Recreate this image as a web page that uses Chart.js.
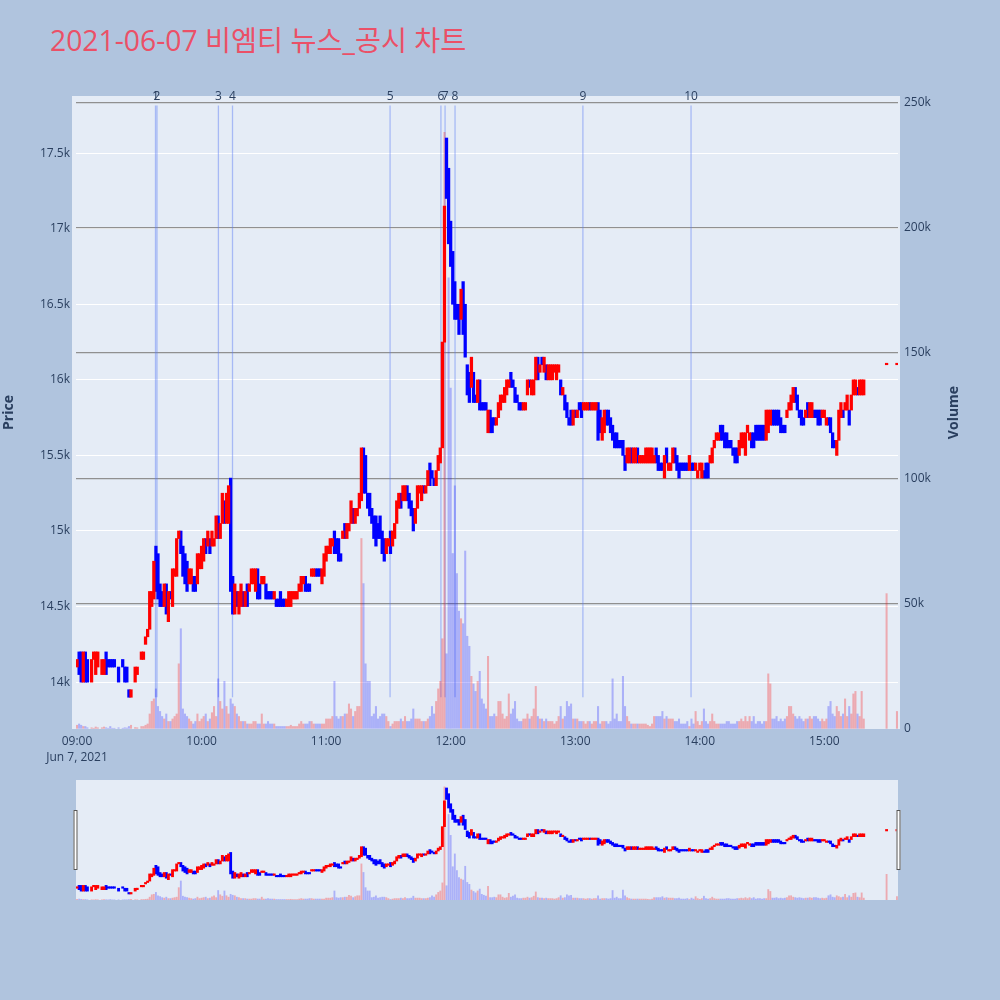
<!DOCTYPE html>
<html>
<head>
<meta charset="utf-8">
<script src="https://cdn.jsdelivr.net/npm/chart.js@4.4.0/dist/chart.umd.min.js"></script>
<style>
html, body { margin: 0; padding: 0; background: #B0C4DE; }
body { width: 1000px; height: 1000px; position: relative; overflow: hidden; }
#title { position: absolute; left: 50px; top: 23px; font-size: 28.3px; line-height: 34px; color: #EB5067;
  font-family: "Open Sans", "Noto Sans CJK KR", sans-serif; white-space: nowrap; }
#main { position: absolute; left: 0; top: 0; }
#slider { position: absolute; left: 0; top: 780px; }
</style>
</head>
<body>
<div id="title">2021-06-07 비엠티 뉴스_공시 차트</div>
<canvas id="main" width="1000" height="800"></canvas>
<canvas id="slider" width="1000" height="120"></canvas>
<script>
// minute index 0 = 09:00, one candle per minute (null = no trade)
var opens = [
  14100,14200,14200,14000,14200,14150,null,14000,14150,14050,
  14100,null,14050,14050,14200,14150,14150,14150,14150,null,
  14100,null,14150,14100,14100,13950,13900,null,14000,14050,
  null,14150,14150,14250,14300,14350,14500,14550,14900,14850,
  14650,14600,14500,14650,14400,14600,14500,14700,14700,14950,
  15000,14900,14850,14800,14650,14650,14700,14700,14650,14750,
  14750,14800,14950,14900,14950,14900,14900,14950,15100,14950,
  15050,15200,15050,15050,15350,14700,14450,14600,14450,14500,
  14600,14500,14650,14600,14650,14650,14600,14750,14650,14650,
  14650,14650,14600,14600,14600,14550,14550,14550,14600,14550,
  14550,14500,14500,14500,14550,14550,14550,14600,14600,14650,
  14700,14650,14650,14700,14700,14750,14750,14750,14650,14700,
  14800,14850,14850,14900,15000,14950,14950,14850,14950,15050,
  14950,15000,15050,15150,15050,15100,15150,15200,15550,15500,
  15250,15250,15150,15100,15100,15050,15100,15000,14950,14850,
  14900,15000,14900,14950,15050,15150,15250,15200,15200,15300,
  15250,15200,15150,15050,15150,15250,15200,15300,15250,15300,
  15450,15400,15350,15300,15400,15450,15550,16250,17600,17400,
  17050,16850,16650,16500,16500,16400,16650,16500,16100,16050,
  15950,16050,15900,15850,16000,15850,15850,15850,15650,15800,
  15750,15750,15700,15750,15800,15850,15850,15900,15950,16050,
  16000,15950,15900,15850,15850,15800,15800,15900,16000,15900,
  15900,16000,16150,16050,16150,16050,16100,16000,16000,16000,
  16050,16000,16050,16000,15900,15900,15850,15750,15800,15700,
  15800,15750,15850,15850,15800,15800,15800,15850,15800,15800,
  15800,15850,15800,15600,15650,15800,15800,15750,15700,15650,
  15650,15600,15600,15600,15500,15450,15450,15550,15450,15450,
  15550,15450,15450,15450,15450,15450,15450,15450,15450,15550,
  15500,15450,15450,15350,15550,15400,15400,15450,15550,15500,
  15450,15450,15450,15450,15450,15400,15450,15450,15400,15350,
  15400,15350,15400,15450,15450,15450,15450,15550,15600,15600,
  15700,15700,15650,15650,15600,15600,15550,15550,15550,15500,
  15550,15550,15500,15650,15600,15650,15650,15700,15700,15700,
  15700,15700,15600,15650,15700,15800,15800,15800,15800,15750,
  15700,15700,15750,15800,15800,15850,15950,15900,15800,15800,
  15750,15750,15850,15750,15750,15800,15800,15800,15800,15750,
  15750,15700,15750,15750,15650,15600,15500,15600,15750,15800,
  15800,15800,15800,15800,15900,15900,15950,15900,15900,15900,
  null,null,null,null,null,null,null,null,null,null,
  16100,null,null,null,null,16100
];
var closes = [
  14150,14050,14000,14200,14000,14000,null,14150,14200,14200,
  14200,null,14150,14150,14050,14100,14100,14100,14100,null,
  14000,null,14100,14000,14000,13900,13950,null,14100,14100,
  null,14200,14200,14300,14350,14600,14600,14800,14600,14550,
  14500,14500,14650,14450,14600,14550,14750,14750,14950,15000,
  14850,14700,14650,14600,14750,14750,14600,14600,14850,14850,
  14900,14950,14850,15000,14850,15000,14950,15100,14950,15050,
  15250,15050,15250,15300,14600,14450,14650,14500,14600,14650,
  14500,14600,14500,14650,14750,14750,14750,14550,14550,14700,
  14700,14550,14550,14550,14550,14600,14500,14500,14500,14500,
  14500,14550,14600,14600,14600,14600,14600,14650,14700,14700,
  14600,14600,14600,14750,14750,14700,14700,14700,14750,14850,
  14900,14900,14950,14950,14850,14850,14800,14800,15000,14950,
  15050,15050,15200,15050,15150,15150,15250,15550,15250,15250,
  15150,15100,15050,14950,14900,14950,14950,14850,14800,14950,
  14950,14850,15000,15050,15200,15250,15150,15300,15300,15200,
  15150,15100,15000,15150,15300,15300,15300,15250,15300,15400,
  15300,15350,15300,15400,15500,15550,16250,17150,17200,16900,
  16750,16500,16400,16400,16300,16600,16300,16150,15900,15850,
  16150,15850,15850,16000,15800,15800,15800,15800,15800,15650,
  15650,15700,15750,15850,15900,15900,15950,16000,16000,15950,
  15950,15850,15850,15800,15800,15850,15850,16000,15950,16000,
  16000,16150,16000,16100,16100,16150,16000,16100,16100,16100,
  16100,16100,16100,15900,15950,15800,15750,15700,15700,15800,
  15750,15800,15800,15750,15850,15850,15850,15800,15850,15850,
  15850,15600,15650,15750,15800,15700,15700,15650,15600,15550,
  15550,15550,15550,15500,15400,15550,15550,15450,15550,15550,
  15450,15500,15500,15500,15550,15550,15550,15550,15500,15450,
  15400,15400,15400,15500,15450,15450,15450,15550,15450,15400,
  15350,15400,15400,15400,15400,15500,15400,15400,15450,15400,
  15450,15450,15350,15350,15350,15500,15550,15600,15650,15650,
  15600,15600,15550,15550,15550,15550,15500,15450,15450,15600,
  15650,15650,15650,15700,15650,15550,15550,15600,15600,15600,
  15600,15600,15800,15800,15800,15700,15700,15700,15700,15650,
  15650,15650,15800,15850,15900,15950,15850,15800,15750,15700,
  15700,15800,15750,15850,15850,15750,15750,15700,15700,15800,
  15800,15750,15700,15650,15550,15550,15600,15800,15850,15750,
  15850,15900,15700,15900,16000,16000,15900,16000,16000,16000,
  null,null,null,null,null,null,null,null,null,null,
  16100,null,null,null,null,16100
];
// [minute, price] where a wick reaches past the body
var highWicks = [[3,14250],[37,15000],[50,15150],[123,15100],[176,16450],[178,17650]];
var lowWicks = [[40,14250],[75,14350],[198,15600],[222,15900],[237,15650],[243,15700],[263,15350],[283,15300],[302,15300]];
var volumes = [
  1500,2000,1500,1000,1000,500,null,500,300,800,
  500,null,500,800,500,300,1000,300,300,null,
  500,null,300,500,400,1000,1500,null,600,500,
  null,1000,1000,1500,2000,6000,11000,12000,16000,9000,
  7000,5000,4000,6000,3000,3000,4000,5000,6000,26000,
  40000,8000,6000,5000,4000,3000,2000,3000,6000,3000,
  4000,5000,6000,3000,4000,6500,9000,5000,20000,11000,
  8000,19000,9000,6000,12000,10000,9000,6000,5000,3000,
  3000,3000,2000,2000,2000,3000,3000,2000,2000,6000,
  2000,2000,3000,2000,2000,2000,1000,1000,1000,1000,
  1000,1000,1000,1500,1000,1000,1000,2000,3000,2000,
  2000,2000,3000,3000,2000,2000,2000,2000,2000,2000,
  4000,4000,4000,5000,19000,5000,4000,5000,5000,6000,
  6000,10000,8000,5000,7000,9000,9000,76000,58000,26000,
  19000,19000,5000,6000,9000,4000,5000,6000,6000,5000,
  3000,1000,2000,3000,3000,3000,4000,3000,5000,3000,
  3000,4000,8000,4000,4000,4000,3000,3000,3000,4000,
  5000,9000,6000,11000,16000,19000,36000,238000,30000,180000,
  136000,70000,97000,62000,47000,44000,42000,71000,37000,33000,
  21000,18000,15000,19000,23000,12000,10000,8000,29000,5000,
  5000,6000,5000,11000,11000,6000,4000,5000,14000,6000,
  8000,11000,4000,3000,3000,4000,4000,6000,4000,5000,
  8000,17000,5000,4000,4000,3000,4000,3000,3000,3000,
  2000,3000,5000,9000,4000,5000,11000,9000,10000,4000,
  4000,4000,3000,3000,3000,2000,3000,3000,2000,3000,
  3000,9000,2000,3000,3000,3000,2000,3000,20000,4000,
  6000,3000,3000,21000,9000,5000,3000,2000,2000,2000,
  2000,2000,2000,2000,2000,1500,1000,2000,5000,5000,
  5000,5000,7000,4000,5000,4000,4000,4000,3000,3000,
  4000,2000,2000,2000,3000,1000,4000,2000,7000,3000,
  1500,3000,8000,3000,2000,3000,6000,3000,2000,2000,
  2000,2000,2000,3000,3000,2000,2000,2000,3000,3000,
  4000,3000,5000,3000,5000,3000,5000,2000,3000,3000,
  2000,3000,3000,22000,18000,4000,4000,5000,3000,4000,
  3000,4000,5000,9000,9000,6000,5000,4000,5000,4000,
  3000,4000,4000,5000,4000,5000,5000,4000,3000,4000,
  3000,4000,9000,11000,6000,5000,9000,7000,5000,6000,
  12000,5000,9000,6000,14000,15000,6000,5000,15000,4000,
  null,null,null,null,null,null,null,null,null,null,
  54000,null,null,null,null,7000
];

var priceTicks = [14000,14500,15000,15500,16000,16500,17000,17500];
var volumeTicks = [0,50000,100000,150000,200000,250000];
var timeTicks = [0,60,120,180,240,300,360];
var timeLabels = ['09:00','10:00','11:00','12:00','13:00','14:00','15:00'];
var dateLabel = 'Jun 7, 2021';
var newsTimes = ['09:37:48','09:38:30','10:08:06','10:14:54','11:30:48','11:55:18','11:57:18','12:02:06','13:03:42','13:55:48'];
var newsLabels = ['1','2','3','4','5','6','7','8','9','10'];

var priceMin = 13690, priceMax = 17878, volMax = 252500;
var UP = '#ff0000', DOWN = '#0000ff';
var FONT = '"Open Sans", sans-serif';
var TXT = '#2a3f5f';

function toMinute(t) {
  var p = t.split(':');
  return (Number(p[0]) - 9) * 60 + Number(p[1]) + Number(p[2]) / 60;
}

var hiMap = new Map(highWicks);
var loMap = new Map(lowWicks);
var upBody = [], dnBody = [], upWick = [], dnWick = [], upVol = [], dnVol = [];
for (var i = 0; i < opens.length; i++) {
  var o = opens[i];
  if (o === null) continue;
  var c = closes[i];
  var up = c >= o;
  var top = hiMap.has(i) ? hiMap.get(i) : Math.max(o, c);
  var bot = loMap.has(i) ? loMap.get(i) : Math.min(o, c);
  (up ? upBody : dnBody).push({x: i, y: [o, c]});
  if (top > Math.max(o, c) || bot < Math.min(o, c)) {
    (up ? upWick : dnWick).push({x: i, y: [bot, top]});
  }
  if (volumes[i]) {
    (up ? upVol : dnVol).push({x: i, y: volumes[i]});
  }
}

function makeSets(bodyW, wickW, volW) {
  var base = {stack: 's', xAxisID: 'x', borderWidth: 0};
  return [
    Object.assign({}, base, {data: upVol, yAxisID: 'yv', backgroundColor: 'rgba(255,0,0,0.28)', barThickness: volW, order: 3}),
    Object.assign({}, base, {data: dnVol, yAxisID: 'yv', backgroundColor: 'rgba(0,0,255,0.25)', barThickness: volW, order: 3}),
    Object.assign({}, base, {data: upWick, yAxisID: 'y', backgroundColor: UP, barThickness: wickW, order: 2}),
    Object.assign({}, base, {data: dnWick, yAxisID: 'y', backgroundColor: DOWN, barThickness: wickW, order: 2}),
    Object.assign({}, base, {data: upBody, yAxisID: 'y', backgroundColor: UP, barThickness: bodyW, minBarLength: 1.5, order: 1}),
    Object.assign({}, base, {data: dnBody, yAxisID: 'y', backgroundColor: DOWN, barThickness: bodyW, minBarLength: 1.5, order: 1})
  ];
}

var plotBg = {
  id: 'plotBg',
  beforeDraw: function(chart, args, opts) {
    var a = chart.chartArea, ctx = chart.ctx;
    ctx.save();
    ctx.fillStyle = '#E5ECF6';
    ctx.fillRect(a.left - opts.padLeft, a.top, a.right - a.left + opts.padLeft + opts.padRight, a.bottom - a.top);
    ctx.restore();
  }
};

var newsLines = {
  id: 'newsLines',
  beforeDatasetsDraw: function(chart) {
    var a = chart.chartArea, ctx = chart.ctx, xs = chart.scales.x;
    var h = a.bottom - a.top;
    ctx.save();
    ctx.strokeStyle = 'rgba(90,125,245,0.45)';
    ctx.lineWidth = 1.3;
    newsTimes.forEach(function(t) {
      var x = xs.getPixelForValue(toMinute(t));
      ctx.beginPath();
      ctx.moveTo(x, a.top + h * 0.015);
      ctx.lineTo(x, a.bottom - h * 0.05);
      ctx.stroke();
    });
    ctx.restore();
  },
  afterDraw: function(chart) {
    var a = chart.chartArea, ctx = chart.ctx, xs = chart.scales.x;
    ctx.save();
    ctx.fillStyle = TXT;
    ctx.font = '12px ' + FONT;
    ctx.textAlign = 'center';
    ctx.textBaseline = 'middle';
    newsTimes.forEach(function(t, k) {
      ctx.fillText(newsLabels[k], xs.getPixelForValue(toMinute(t)), a.top + 1);
    });
    // axis titles, both read bottom to top
    ctx.font = 'bold 14px ' + FONT;
    var midY = (a.top + a.bottom) / 2;
    [['Price', 9], ['Volume', 954]].forEach(function(t) {
      ctx.save();
      ctx.translate(t[1], midY);
      ctx.rotate(-Math.PI / 2);
      ctx.fillText(t[0], 0, 0);
      ctx.restore();
    });
    ctx.restore();
  }
};

var tickFont = {family: FONT, size: 12};

new Chart(document.getElementById('main'), {
  type: 'bar',
  data: {datasets: makeSets(2.6, 1.2, 1.4)},
  options: {
    responsive: false,
    animation: false,
    events: [],
    layout: {padding: {top: 96, right: 32, left: 0, bottom: 0}},
    plugins: {legend: {display: false}, tooltip: {enabled: false}, plotBg: {padLeft: 4, padRight: 2}},
    scales: {
      x: {
        type: 'linear', min: -0.5, max: 395.5, offset: false,
        afterBuildTicks: function(s) { s.ticks = timeTicks.map(function(v) { return {value: v}; }); },
        afterFit: function(s) { s.height = 71; },
        ticks: {
          autoSkip: false, maxRotation: 0, padding: 4, color: TXT,
          font: {family: FONT, size: 12, lineHeight: 1.35},
          callback: function(v, idx) { return idx === 0 ? [timeLabels[0], dateLabel] : timeLabels[idx]; }
        },
        grid: {display: false, drawTicks: false, offset: false},
        border: {display: false}
      },
      y: {
        position: 'left', min: priceMin, max: priceMax, stacked: false,
        afterBuildTicks: function(s) { s.ticks = priceTicks.map(function(v) { return {value: v}; }); },
        afterFit: function(s) { s.width = 76; },
        ticks: {padding: 6, color: TXT, font: tickFont, callback: function(v) { return (v / 1000) + 'k'; }},
        grid: {color: '#ffffff', lineWidth: 1, drawTicks: false},
        border: {display: false}
      },
      yv: {
        position: 'right', min: 0, max: volMax, stacked: false,
        afterBuildTicks: function(s) { s.ticks = volumeTicks.map(function(v) { return {value: v}; }); },
        afterFit: function(s) { s.width = 70; },
        ticks: {padding: 6, color: TXT, font: tickFont, callback: function(v) { return v === 0 ? '0' : (v / 1000) + 'k'; }},
        grid: {
          color: function(ctx) { return ctx.tick && ctx.tick.value === 0 ? 'rgba(0,0,0,0)' : '#909090'; },
          lineWidth: 1.3, drawTicks: false
        },
        border: {display: false}
      }
    }
  },
  plugins: [plotBg, newsLines]
});

var handles = {
  id: 'handles',
  afterDraw: function(chart) {
    var a = chart.chartArea, ctx = chart.ctx;
    ctx.save();
    ctx.fillStyle = '#ffffff';
    ctx.strokeStyle = '#555555';
    ctx.lineWidth = 1;
    [a.left - 2.5, a.right - 1.5].forEach(function(x) {
      ctx.fillRect(x, 30, 4, 60);
      ctx.strokeRect(x + 0.5, 30.5, 3, 59);
    });
    ctx.restore();
  }
};

new Chart(document.getElementById('slider'), {
  type: 'bar',
  data: {datasets: makeSets(2.2, 1, 1.2)},
  options: {
    responsive: false,
    animation: false,
    events: [],
    layout: {padding: {top: 0, right: 102, left: 76, bottom: 0}},
    plugins: {legend: {display: false}, tooltip: {enabled: false}, plotBg: {padLeft: 0, padRight: 0}},
    scales: {
      x: {type: 'linear', min: -0.5, max: 395.5, offset: false, display: false},
      y: {min: priceMin, max: priceMax, display: false, stacked: false},
      yv: {min: 0, max: volMax, display: false, stacked: false}
    }
  },
  plugins: [plotBg, handles]
});
</script>
</body>
</html>
